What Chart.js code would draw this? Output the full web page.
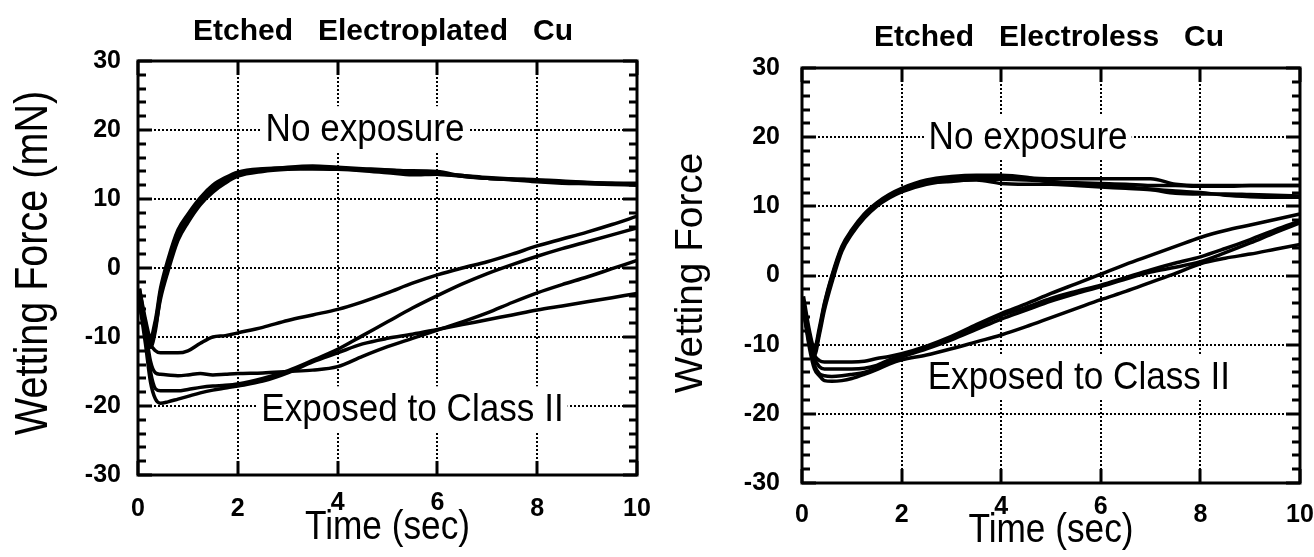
<!DOCTYPE html>
<html>
<head>
<meta charset="utf-8">
<title>Wetting balance curves</title>
<script src="https://cdn.jsdelivr.net/npm/chart.js@4.4.1/dist/chart.umd.min.js"></script>
<style>
  html, body { margin: 0; padding: 0; background: #fff; overflow: hidden; }
  body { width: 1314px; height: 557px; position: relative; }
  .panel { position: absolute; top: 0; height: 557px; }
  .panel canvas { display: block; }
  #leftPanel { left: 0; width: 657px; }
  #rightPanel { left: 657px; width: 700px; }
</style>
</head>
<body>
<div class="panel" id="leftPanel"><canvas id="platedChart" width="657" height="557"></canvas></div>
<div class="panel" id="rightPanel"><canvas id="electrolessChart" width="700" height="557"></canvas></div>
<script>
// sample times (sec), shared by every trace
const timeSec = [0.03, 0.15, 0.25, 0.35, 0.45, 0.6, 0.8, 1.0, 1.25, 1.5, 1.75, 2.0, 2.5, 3.0,
                 3.5, 4.0, 4.5, 5.0, 5.5, 6.0, 6.5, 7.0, 7.5, 8.0, 8.5, 9.0, 9.5, 10.0];
const xTicks = [0, 2, 4, 6, 8, 10];
const yTicks = [-30, -20, -10, 0, 10, 20, 30];

// Etched electroplated Cu, wetting force (mN)
const platedNoExp1 = [-3, -8, -10.5, -8, -3.5, 0.5, 4.8, 7.2, 9.8, 11.6, 12.8, 13.7, 14.3, 14.5,
                      14.6, 14.5, 14.3, 14.2, 14.0, 13.7, 13.4, 13.0, 12.9, 12.7, 12.5, 12.4, 12.3, 12.1];
const platedNoExp2 = [-4, -9, -11, -8.5, -4.5, -0.5, 4.0, 6.6, 9.2, 11.0, 12.3, 13.3, 14.0, 14.3,
                      14.4, 14.3, 14.1, 13.8, 13.5, 13.6, 13.3, 13.0, 12.8, 12.6, 12.4, 12.3, 12.2, 12.2];
const platedNoExp3 = [-3, -7.5, -10, -7.5, -3, 1.2, 5.5, 7.8, 10.2, 12.0, 13.1, 13.9, 14.4, 14.5,
                      14.4, 14.4, 14.2, 14.1, 14.1, 14.0, 13.3, 13.0, 12.8, 12.5, 12.3, 12.2, 12.1, 12.0];
const platedNoExp4 = [-5, -9.5, -11.5, -9, -4, 0.2, 4.5, 7.0, 9.5, 11.3, 12.6, 13.5, 14.2, 14.6,
                      14.8, 14.6, 14.4, 14.2, 13.9, 13.6, 13.4, 13.1, 12.9, 12.8, 12.6, 12.4, 12.3, 12.3];
const platedExp1 = [-4, -8, -11, -12, -12.3, -12.3, -12.3, -12.0, -10.9, -10.0, -9.8, -9.4, -8.6, -7.6,
                    -6.8, -6.0, -4.9, -3.6, -2.2, -1.0, 0.0, 0.9, 2.0, 3.2, 4.2, 5.2, 6.3, 7.5];
const platedExp2 = [-5, -10, -15, -17.5, -17.8, -17.8, -17.8, -17.6, -17.3, -17.1, -17.0, -16.8, -16.0, -14.9,
                    -13.4, -11.8, -9.8, -7.8, -5.8, -4.0, -2.3, -0.8, 0.5, 1.7, 2.8, 3.8, 4.8, 5.8];
const platedExp3 = [-4, -9, -13.5, -15.2, -15.4, -15.5, -15.6, -15.5, -15.3, -15.5, -15.4, -15.3, -15.2, -15.0,
                    -14.8, -14.3, -12.8, -11.4, -10.2, -9.0, -7.8, -6.5, -5.0, -3.6, -2.4, -1.3, -0.1, 1.1];
const platedExp4 = [-5, -11, -16.5, -19.0, -19.6, -19.4, -19.0, -18.6, -18.1, -17.7, -17.4, -17.1, -16.4, -15.2,
                    -13.6, -12.3, -11.0, -10.2, -9.6, -8.9, -8.2, -7.5, -6.8, -6.1, -5.5, -4.9, -4.3, -3.7];

// Etched electroless Cu
const lessNoExp1 = [-4, -9, -11, -8, -4.5, -0.5, 3.8, 6.2, 8.5, 10.2, 11.4, 12.3, 13.5, 14.0,
                    14.2, 14.2, 14.1, 14.0, 14.0, 14.0, 14.0, 14.0, 13.2, 13.0, 13.0, 13.0, 13.0, 13.0];
const lessNoExp2 = [-3, -8, -10.5, -7.5, -4, 0, 4.2, 6.6, 8.9, 10.5, 11.7, 12.6, 13.8, 14.3,
                    14.5, 14.5, 14.2, 13.5, 13.4, 13.3, 13.2, 13.0, 13.0, 12.9, 12.9, 13.0, 13.0, 13.0];
const lessNoExp3 = [-5, -9.5, -11.5, -8.5, -5, -1, 3.5, 6.0, 8.3, 10.0, 11.2, 12.1, 13.2, 13.7,
                    13.8, 13.3, 13.2, 13.2, 13.0, 12.8, 12.6, 12.4, 11.9, 11.8, 11.8, 11.7, 11.6, 11.5];
const lessNoExp4 = [-4, -8.5, -11, -8, -4.2, -0.2, 4.0, 6.4, 8.7, 10.4, 11.5, 12.4, 13.4, 13.6,
                    13.9, 13.9, 13.8, 13.6, 13.3, 13.0, 12.8, 12.5, 12.2, 12.0, 11.6, 11.4, 11.3, 11.3];
const lessExp1 = [-4, -9, -11.5, -12.3, -12.5, -12.5, -12.5, -12.5, -12.4, -12.0, -11.7, -11.3, -10.2, -8.8,
                  -7.1, -5.5, -4.1, -2.6, -1.2, 0.2, 1.6, 2.9, 4.2, 5.5, 6.5, 7.3, 8.1, 8.9];
const lessExp2 = [-4.5, -9.5, -12, -13.2, -13.5, -13.5, -13.5, -13.5, -13.4, -13.0, -12.2, -11.6, -10.4, -9.0,
                  -7.4, -5.8, -4.6, -3.3, -2.3, -1.4, -0.3, 0.8, 1.8, 2.7, 3.9, 5.2, 6.6, 7.9];
const lessExp3 = [-5, -10, -13, -14.2, -14.5, -14.6, -14.5, -14.3, -14.0, -13.4, -12.6, -11.8, -10.6, -9.3,
                  -7.8, -6.3, -5.0, -3.7, -2.6, -1.6, -0.5, 0.5, 1.2, 2.0, 3.3, 4.7, 6.2, 7.6];
const lessExp4 = [-5, -10.5, -13.5, -14.5, -15.2, -15.3, -15.2, -14.9, -14.3, -13.6, -12.8, -12.2, -11.5, -10.6,
                  -9.6, -8.6, -7.4, -6.1, -4.8, -3.5, -2.3, -1.0, 0.3, 1.7, 2.5, 3.1, 3.8, 4.5];

const FONT = '"Liberation Sans", Arial, Helvetica, sans-serif';
const TICK_SIZE = 25;

// text squeezed along its own direction, like the narrow Helvetica of the plots
function drawScaledText(ctx, text, x, y, font, sx, angle) {
  ctx.save();
  ctx.translate(x, y);
  if (angle) ctx.rotate(angle);
  ctx.scale(sx, 1);
  ctx.font = font;
  ctx.fillText(text, 0, 0);
  ctx.restore();
}

// dotted grid, boxed curve labels, heavy frame with inward ticks, titles
const plotFrame = {
  id: 'plotFrame',
  beforeDatasetsDraw(chart, args, o) {
    const { ctx, chartArea: a, scales: { x, y } } = chart;
    ctx.save();
    ctx.strokeStyle = '#000';
    ctx.lineWidth = 2;
    ctx.setLineDash([2, 2]);
    xTicks.slice(1, -1).forEach(v => {
      const px = Math.round(x.getPixelForValue(v));
      ctx.beginPath(); ctx.moveTo(px, a.top); ctx.lineTo(px, a.bottom); ctx.stroke();
    });
    yTicks.slice(1, -1).forEach(v => {
      const py = Math.round(y.getPixelForValue(v));
      ctx.beginPath(); ctx.moveTo(a.left, py); ctx.lineTo(a.right, py); ctx.stroke();
    });
    ctx.setLineDash([]);

    const font = `${o.noteSize}px ${FONT}`;
    const cap = o.noteSize * 0.72;
    ctx.font = font;
    ctx.textAlign = 'center';
    ctx.textBaseline = 'alphabetic';
    o.notes.forEach(n => {
      const w = ctx.measureText(n.text).width * o.noteScale;
      const cx = x.getPixelForValue(n.x);
      const cy = y.getPixelForValue(n.y);
      ctx.fillStyle = '#fff';
      ctx.fillRect(cx - w / 2 - 4, cy - cap / 2 - 7, w + 8, cap + 17);
      ctx.fillStyle = '#000';
      drawScaledText(ctx, n.text, cx, cy + cap / 2, font, o.noteScale, 0);
      ctx.font = font;
    });
    ctx.restore();
  },
  afterDatasetsDraw(chart) {
    const { ctx, chartArea: a, scales: { x, y } } = chart;
    ctx.save();
    ctx.strokeStyle = '#000';
    ctx.lineWidth = 3;
    ctx.strokeRect(a.left, a.top, a.right - a.left, a.bottom - a.top);
    ctx.beginPath();
    xTicks.forEach(v => {
      const px = Math.round(x.getPixelForValue(v));
      ctx.moveTo(px, a.bottom); ctx.lineTo(px, a.bottom - 14);
      ctx.moveTo(px, a.top); ctx.lineTo(px, a.top + 14);
    });
    for (let v = y.min; v <= y.max; v += 2) {
      const py = Math.round(y.getPixelForValue(v));
      const len = v % 10 === 0 ? 14 : 8;
      ctx.moveTo(a.left, py); ctx.lineTo(a.left + len, py);
      ctx.moveTo(a.right, py); ctx.lineTo(a.right - len, py);
    }
    ctx.stroke();
    ctx.restore();
  },
  afterDraw(chart, args, o) {
    const { ctx, chartArea: a, scales: { x } } = chart;
    ctx.save();
    ctx.fillStyle = '#000';
    ctx.textAlign = 'center';
    ctx.textBaseline = 'alphabetic';

    // time labels; the two above the axis title sit a little higher
    const digitH = TICK_SIZE * 0.716;
    xTicks.forEach(v => {
      const lift = (v === 4 || v === 6) ? o.xLabelLift : 0;
      drawScaledText(ctx, String(v), x.getPixelForValue(v), o.xLabelMid + digitH / 2 - lift,
                     `bold ${TICK_SIZE}px ${FONT}`, 1, 0);
    });

    drawScaledText(ctx, o.title, o.titleX, o.titleY, `bold 30px ${FONT}`, 1, 0);
    drawScaledText(ctx, 'Time (sec)', (a.left + a.right) / 2, o.xTitleY, `41px ${FONT}`, 0.86, 0);
    drawScaledText(ctx, o.yTitle, o.yTitleX, o.yTitleMid,
                   `${o.yTitleSize}px ${FONT}`, o.yTitleScale, -Math.PI / 2);
    ctx.restore();
  }
};

function makeChart(canvasId, series, frame, box) {
  const tickFont = { family: FONT, size: TICK_SIZE, weight: 'bold' };
  return new Chart(document.getElementById(canvasId), {
    type: 'line',
    data: {
      datasets: series.map(vals => ({
        data: timeSec.map((t, i) => ({ x: t, y: vals[i] })),
        borderColor: '#000',
        borderWidth: 3.5,
        pointRadius: 0,
        cubicInterpolationMode: 'monotone',
        fill: false
      }))
    },
    options: {
      responsive: false,
      animation: false,
      events: [],
      layout: { autoPadding: false, padding: { left: 0, top: box.top, right: box.right, bottom: 0 } },
      plugins: { legend: { display: false }, tooltip: { enabled: false }, plotFrame: frame },
      scales: {
        x: {
          type: 'linear', min: 0, max: 10,
          grid: { display: false, drawTicks: false },
          border: { display: false },
          ticks: { display: false, stepSize: 2 },
          afterFit: s => { s.height = box.xHeight; }
        },
        y: {
          min: -30, max: 30,
          grid: { display: false, drawTicks: false },
          border: { display: false },
          ticks: { stepSize: 10, padding: box.yPad, color: '#000', font: tickFont },
          afterFit: s => { s.width = box.yWidth; }
        }
      }
    },
    plugins: [plotFrame]
  });
}

makeChart('platedChart',
  [platedNoExp1, platedNoExp2, platedNoExp3, platedNoExp4, platedExp1, platedExp2, platedExp3, platedExp4],
  {
    title: 'Etched   Electroplated   Cu', titleX: 383, titleY: 40,
    yTitle: 'Wetting Force (mN)', yTitleX: 47, yTitleMid: 263, yTitleSize: 46, yTitleScale: 0.86,
    xTitleY: 539, xLabelMid: 507, xLabelLift: 6,
    noteSize: 39, noteScale: 0.9,
    notes: [
      { text: 'No exposure', x: 4.55, y: 20.4 },
      { text: 'Exposed to Class II', x: 5.5, y: -20.2 }
    ]
  },
  { top: 61, right: 20, xHeight: 82, yWidth: 138, yPad: 17 });

makeChart('electrolessChart',
  [lessNoExp1, lessNoExp2, lessNoExp3, lessNoExp4, lessExp1, lessExp2, lessExp3, lessExp4],
  {
    title: 'Etched   Electroless   Cu', titleX: 392, titleY: 46,
    yTitle: 'Wetting Force', yTitleX: 45, yTitleMid: 273, yTitleSize: 38, yTitleScale: 1.02,
    xTitleY: 542, xLabelMid: 513, xLabelLift: 8,
    noteSize: 39, noteScale: 0.9,
    notes: [
      { text: 'No exposure', x: 4.54, y: 20.3 },
      { text: 'Exposed to Class II', x: 5.56, y: -14.4 }
    ]
  },
  { top: 68, right: 57, xHeight: 74, yWidth: 145, yPad: 22 });
</script>
</body>
</html>
